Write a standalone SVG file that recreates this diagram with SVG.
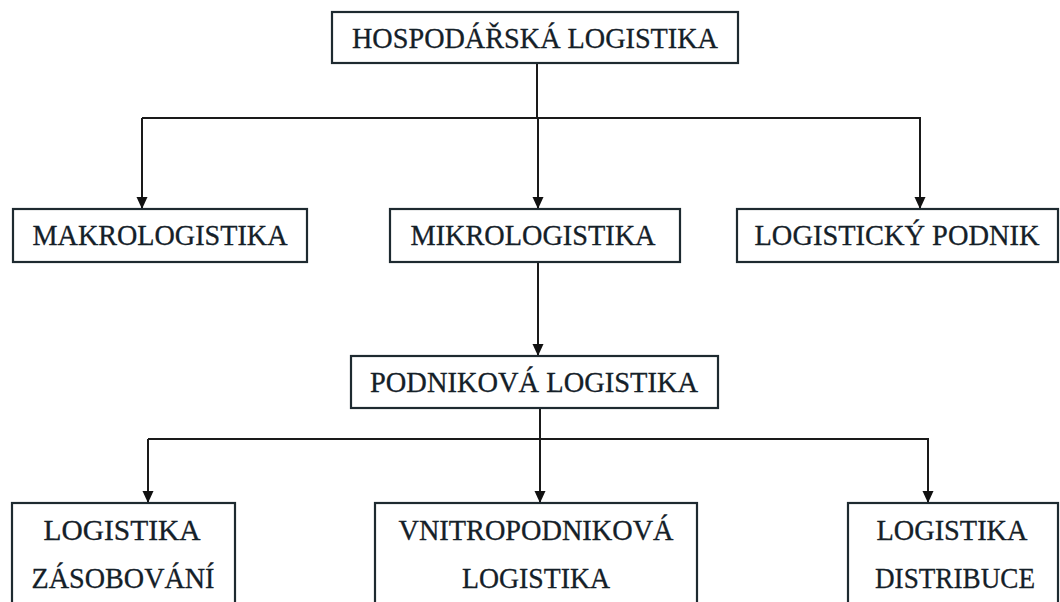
<svg xmlns="http://www.w3.org/2000/svg" width="1060" height="602" viewBox="0 0 1060 602">
<defs>
<style>
.box{fill:#ffffff;stroke:#1e2a30;stroke-width:2.2}
.lbl{font-family:"Liberation Serif","Times New Roman",serif;font-size:30px;fill:#142028;stroke:#142028;stroke-width:0.3;text-anchor:middle}
.con{fill:none;stroke:#1a1a1a;stroke-width:2}
</style>
<marker id="arrow" viewBox="0 0 12 12" refX="12" refY="6" markerWidth="12" markerHeight="12" markerUnits="userSpaceOnUse" orient="auto">
<path d="M0,0.5 L12,6 L0,11.5 z" fill="#111111"/>
</marker>
</defs>
<rect width="1060" height="602" fill="#ffffff"/>
<g id="connectors">
<line class="con" x1="537" y1="63" x2="537" y2="118"/>
<line class="con" x1="142" y1="118" x2="921" y2="118"/>
<line class="con" x1="142" y1="118" x2="142" y2="209" marker-end="url(#arrow)"/>
<line class="con" x1="538" y1="118" x2="538" y2="209" marker-end="url(#arrow)"/>
<line class="con" x1="920" y1="118" x2="920" y2="209" marker-end="url(#arrow)"/>
<line class="con" x1="538" y1="262" x2="538" y2="356" marker-end="url(#arrow)"/>
<line class="con" x1="540" y1="408" x2="540" y2="439"/>
<line class="con" x1="148" y1="439" x2="929" y2="439"/>
<line class="con" x1="148" y1="439" x2="148" y2="503" marker-end="url(#arrow)"/>
<line class="con" x1="540" y1="439" x2="540" y2="503" marker-end="url(#arrow)"/>
<line class="con" x1="928" y1="439" x2="928" y2="503" marker-end="url(#arrow)"/>
</g>
<g id="hospodarska">
<rect class="box" x="332" y="12" width="406" height="51"/>
<text class="lbl" x="535" y="48" textLength="366" lengthAdjust="spacingAndGlyphs">HOSPODÁŘSKÁ LOGISTIKA</text>
</g>
<g id="makrologistika">
<rect class="box" x="13" y="209" width="294" height="53"/>
<text class="lbl" x="160" y="245" textLength="255" lengthAdjust="spacingAndGlyphs">MAKROLOGISTIKA</text>
</g>
<g id="mikrologistika">
<rect class="box" x="390" y="209" width="290" height="53"/>
<text class="lbl" x="533" y="245" textLength="245" lengthAdjust="spacingAndGlyphs">MIKROLOGISTIKA</text>
</g>
<g id="logisticky-podnik">
<rect class="box" x="737" y="209" width="321" height="53"/>
<text class="lbl" x="897" y="245" textLength="285" lengthAdjust="spacingAndGlyphs">LOGISTICKÝ PODNIK</text>
</g>
<g id="podnikova">
<rect class="box" x="351" y="356" width="367" height="52"/>
<text class="lbl" x="534" y="392" textLength="328" lengthAdjust="spacingAndGlyphs">PODNIKOVÁ LOGISTIKA</text>
</g>
<g id="zasobovani">
<rect class="box" x="12" y="503" width="223" height="120"/>
<text class="lbl" x="122" y="540" textLength="157" lengthAdjust="spacingAndGlyphs">LOGISTIKA</text>
<text class="lbl" x="123" y="588" textLength="183" lengthAdjust="spacingAndGlyphs">ZÁSOBOVÁNÍ</text>
</g>
<g id="vnitropodnikova">
<rect class="box" x="375" y="503" width="322" height="120"/>
<text class="lbl" x="536" y="540" textLength="275" lengthAdjust="spacingAndGlyphs">VNITROPODNIKOVÁ</text>
<text class="lbl" x="536" y="588" textLength="148" lengthAdjust="spacingAndGlyphs">LOGISTIKA</text>
</g>
<g id="distribuce">
<rect class="box" x="848" y="503" width="210" height="120"/>
<text class="lbl" x="952" y="540" textLength="151" lengthAdjust="spacingAndGlyphs">LOGISTIKA</text>
<text class="lbl" x="955" y="588" textLength="160" lengthAdjust="spacingAndGlyphs">DISTRIBUCE</text>
</g>
</svg>
